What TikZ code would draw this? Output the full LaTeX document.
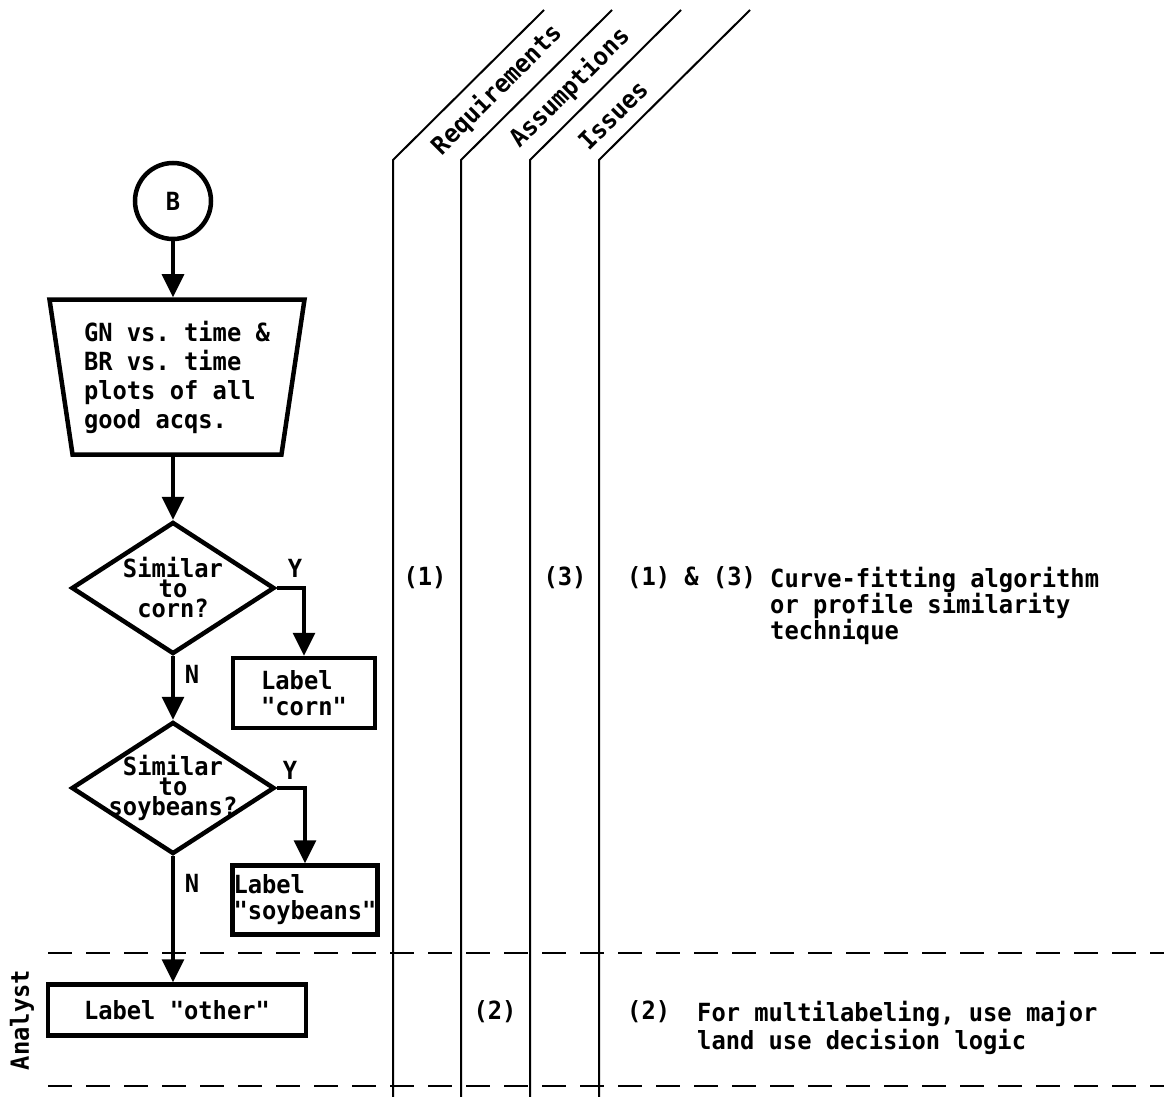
\documentclass[tikz,border=0pt]{standalone}
\usepackage{fontspec}
\setmonofont{DejaVu Sans Mono}[FakeStretch=0.95]
\usetikzlibrary{shapes.geometric, arrows.meta}

\begin{document}
\begin{tikzpicture}[x=1pt, y=-1pt, line join=miter,
    font=\ttfamily\bfseries\fontsize{25}{26}\selectfont,
    box/.style={draw, line width=4.5pt, inner sep=3pt},
    decision/.style={draw, diamond, line width=4.5pt, inner sep=0pt,
        minimum width=203pt, minimum height=132pt},
    inside/.style={align=center, font=\ttfamily\bfseries\fontsize{25}{20}\selectfont},
    flow/.style={line width=3.5pt, -{Triangle[length=23pt, width=22pt]}},
    column/.style={line width=2pt},
    lane/.style={line width=2.5pt, dash pattern=on 24pt off 14pt}]

    \useasboundingbox (0,0) rectangle (1164,1097);

    % Nodes (flow chart)
    \node[draw, circle, line width=4.5pt, minimum size=76pt, inner sep=0pt] (B) at (173,201) {B};
    \node[box, trapezium, trapezium angle=79, shape border rotate=180, trapezium stretches body,
        minimum width=255pt, minimum height=155pt, align=left,
        font=\ttfamily\bfseries\fontsize{25}{29}\selectfont] (plots) at (177,377)
        {GN vs. time \&\\BR vs. time\\plots of all\\good acqs.};
    \node[decision, label={[name=sim1text, inside]center:Similar\\to\\corn?}] (sim1) at (173,588) {};
    \node[box, minimum width=142pt, minimum height=70pt, align=left] (corn) at (304,693) {Label\\"corn"};
    \node[decision, label={[name=sim2text, inside]center:Similar\\to\\soybeans?}] (sim2) at (173,788) {};
    \node[box, minimum width=144pt, minimum height=69pt, inner xsep=1pt, align=left] (soy) at (305,900) {Label\\"soybeans"};
    \node[box, minimum width=258pt, minimum height=51pt] (other) at (177,1010) {Label "other"};

    % Nodes (branch letters)
    \node (y1) at (295,568) {Y};
    \node (n1) at (192,674) {N};
    \node (y2) at (290,770) {Y};
    \node (n2) at (192,883) {N};

    % Edges (flow)
    \draw[flow] (B) -- (B |- plots.north);
    \draw[flow] (sim1.north |- plots.south) -- (sim1);
    \draw[flow] (sim1.east) -| (corn.north);
    \draw[flow] (sim1) -- (sim2);
    \draw[flow] (sim2.east) -| (soy.north);
    \draw[flow] (sim2) -- (sim2 |- other.north);

    % Columns
    \foreach \x in {393,461,530,599}
        \draw[column] (\x,1097) -- (\x,160) -- ++(151,-150);
    \node[rotate=45] (req) at (497,90) {Requirements};
    \node[rotate=45] (assum) at (570,88) {Assumptions};
    \node[rotate=45] (issues) at (613,115) {Issues};

    % Analyst lane
    \draw[lane] (48,953) -- (1164,953);
    \draw[lane] (48,1086) -- (1164,1086);
    \node[rotate=90] (analyst) at (22,1020) {Analyst};

    % Notes
    \node (req1) at (425,578) {(1)};
    \node (iss3) at (565,578) {(3)};
    \node[anchor=west, inner sep=0pt] (note13) at (627,578) {(1) \& (3)};
    \node[anchor=north west, inner sep=0pt, align=left] (curve) at (770,567)
        {Curve-fitting algorithm\\or profile similarity\\technique};
    \node (assum2) at (495,1012) {(2)};
    \node[anchor=west, inner sep=0pt] (note2) at (627,1012) {(2)};
    \node[anchor=north west, inner sep=0pt, align=left,
        font=\ttfamily\bfseries\fontsize{25}{28}\selectfont] (multi) at (697,1001)
        {For multilabeling, use major\\land use decision logic};
\end{tikzpicture}
\end{document}
